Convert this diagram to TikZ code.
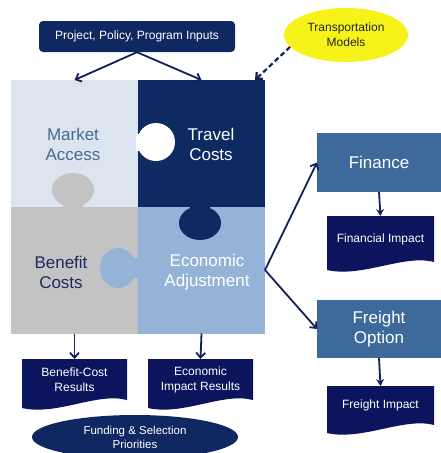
\documentclass[tikz,border=0pt]{standalone}
\usepackage{fontspec}
\setmainfont{Liberation Sans}
\usetikzlibrary{arrows.meta,calc,shapes.geometric,backgrounds}
\definecolor{navy}{HTML}{0F2862}
\definecolor{docnavy}{HTML}{0C145E}
\definecolor{arrownavy}{HTML}{14205A}
\definecolor{maFill}{HTML}{DCE4EF}
\definecolor{maText}{HTML}{4B6A93}
\definecolor{tcFill}{HTML}{0D2A63}
\definecolor{bcFill}{HTML}{C3C3C3}
\definecolor{bcText}{HTML}{1C2B5E}
\definecolor{eaFill}{HTML}{95B3D7}
\definecolor{steel}{HTML}{3D6A9B}
\definecolor{ylw}{HTML}{F7F31A}
\newcommand\docwave[1]{\fill[docnavy] (#1.north west) -- (#1.north east) -- (#1.south east) .. controls ([xshift=-30pt,yshift=8pt]#1.south east) and ([xshift=35pt,yshift=-16pt]#1.south west) .. ([yshift=-8pt]#1.south west) -- cycle;}
\begin{document}
\begin{tikzpicture}[x=1pt,y=-1pt,
 quad/.style={rectangle, inner sep=0, outer sep=0, minimum width=127pt, minimum height=127pt},
 big/.style={font=\fontsize{17}{20}\selectfont, align=center},
 small/.style={font=\fontsize{12}{15}\selectfont, align=center},
 stepbox/.style={rectangle, fill=steel, text=white, minimum width=124pt, inner sep=0, outer sep=0, big},
 docbox/.style={rectangle, inner sep=0, outer sep=0, minimum width=107pt, small, text=white},
 arr/.style={draw=arrownavy, line width=1.8pt, -{Straight Barb[length=5pt,width=9pt]}},
 darr/.style={draw=arrownavy, line width=1.8pt, -{Stealth[length=7pt,width=8pt]}},
 ]
\useasboundingbox (0,0) rectangle (441,453);
% puzzle
\node[quad, fill=maFill] (ma) at (74.5,143.5) {};
\node[quad, fill=tcFill] (tc) at (201.5,143.5) {};
\node[quad, fill=bcFill] (bc) at (74.5,270) {};
\node[quad, fill=eaFill] (ea) at (201.5,270) {};
\fill[white] (156,142) circle [radius=19];
\fill[white] (136,134) rectangle (142,151);
\fill[bcFill] (73,190) ellipse [x radius=21, y radius=17];
\fill[bcFill] (63,198) rectangle (83,208);
\fill[tcFill] (200,223) ellipse [x radius=21, y radius=17];
\fill[tcFill] (190,205) rectangle (210,214);
\fill[eaFill] (118,268) ellipse [x radius=18, y radius=20];
\fill[eaFill] (128,258) rectangle (139,278);
\node[big, text=maText] (mal) at (73,144) {Market\\Access};
\node[big, text=white] (tcl) at (211,144) {Travel\\Costs};
\node[big, text=bcText] (bcl) at (61,272) {Benefit\\Costs};
\node[big, text=white] (eal) at (207,272) {Economic\\Adjustment};
% top
\node[rectangle, rounded corners=4pt, fill=navy, text=white, minimum width=196pt, minimum height=31pt, small] (inp) at (137,36.5) {Project, Policy, Program Inputs};
\node[ellipse, fill=ylw, minimum width=124pt, minimum height=54pt, inner sep=0, small, text=black!85] (tm) at (346,35) {Transportation\\Models};
\draw[arr] (inp.south) -- (ma.north);
\draw[arr] (inp.south) -- (tc.north);
\draw[arr, line width=2.2pt, dash pattern=on 5pt off 3pt] (tm.192) -- ($(tc.north east)+(-10,0)$);
% right
\node[stepbox, minimum height=59pt] (fin) at (379,162.5) {Finance};
\node[stepbox, minimum height=58pt] (fo) at (379,329) {Freight\\Option};
\node[docbox, minimum height=46pt] (fi) at (380.5,239) {Financial Impact};
\node[docbox, minimum height=39pt] (fr) at (380.5,405.5) {Freight Impact};
% bottom
\node[docbox, minimum width=105pt, minimum height=41pt] (bcr) at (74.5,379.5) {Benefit-Cost\\Results};
\node[docbox, minimum width=105pt, minimum height=41pt] (ecr) at (200.5,379.5) {Economic\\Impact Results};
\node[ellipse, fill=navy, text=white, minimum width=206pt, minimum height=44pt, inner sep=0, font=\fontsize{11.5}{14}\selectfont, align=center] (fund) at (135,437) {Funding \& Selection\\Priorities};
\begin{scope}[on background layer]
\docwave{fi}
\docwave{fr}
\docwave{bcr}
\docwave{ecr}
\end{scope}
\draw[darr] (fin.south) -- (fi.north);
\draw[darr] (fo.south) -- (fr.north);
\draw[arr] (ea.east) -- (fin.west);
\draw[arr] (ea.east) -- (fo.west);
\draw[arr] (bc.south) -- (bcr.north);
\draw[arr] (ea.south) -- (ecr.north);
\end{tikzpicture}
\end{document}
